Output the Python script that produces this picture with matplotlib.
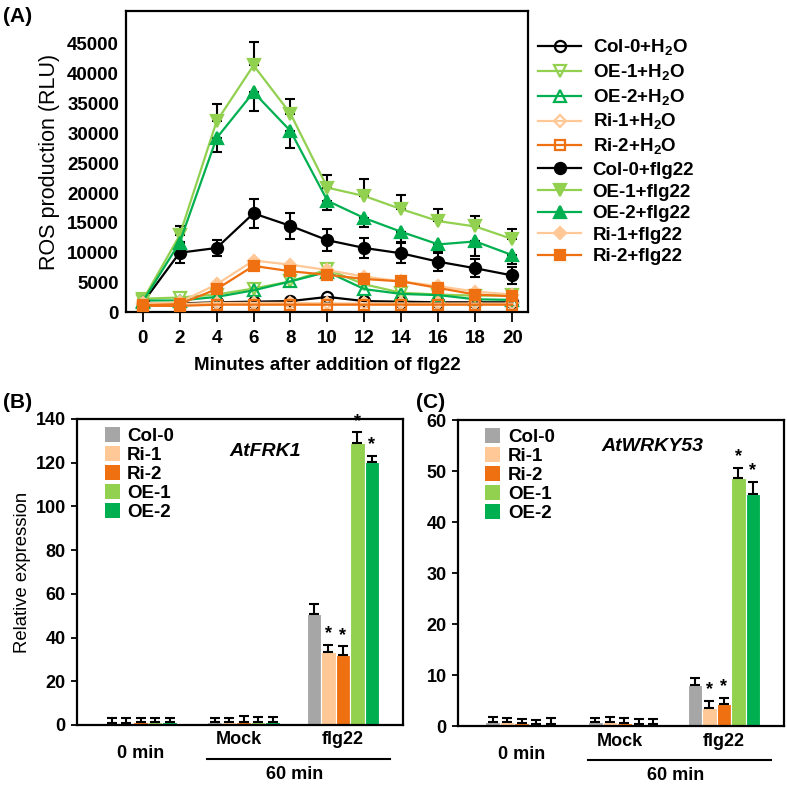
import numpy as np
import matplotlib
matplotlib.use("Agg")
import matplotlib.pyplot as plt
from matplotlib.patches import Patch

plt.rcParams["font.family"] = ["Liberation Sans", "DejaVu Sans"]
plt.rcParams["font.weight"] = "bold"
plt.rcParams["mathtext.fontset"] = "custom"
plt.rcParams["mathtext.rm"] = "Liberation Sans:bold"
plt.rcParams["mathtext.bf"] = "Liberation Sans:bold"

# ---- panel A data (ROS time course) ----
minutes = [0, 2, 4, 6, 8, 10, 12, 14, 16, 18, 20]

col0_h2o = [1500, 1500, 1700, 1800, 1900, 2600, 1900, 1800, 1700, 1700, 1700]
oe1_h2o = [2300, 2500, 3000, 4000, 5200, 7200, 4700, 3300, 3000, 2800, 2900]
oe2_h2o = [2000, 2000, 2600, 3700, 5200, 6800, 3900, 3100, 2900, 2200, 2100]
ri1_h2o = [1400, 1400, 1600, 1600, 1600, 1500, 1500, 1500, 1500, 1500, 1500]
ri2_h2o = [1100, 1100, 1300, 1300, 1300, 1300, 1300, 1300, 1300, 1300, 1300]

col0_flg = [1600, 10000, 10800, 16600, 14500, 12100, 10800, 9900, 8500, 7400, 6200]
oe1_flg = [2000, 12900, 32000, 41400, 33300, 20900, 19500, 17300, 15300, 14400, 12300]
oe2_flg = [1800, 11700, 29200, 36900, 30400, 18700, 15800, 13500, 11400, 11900, 9600]
ri1_flg = [1500, 1700, 4700, 8700, 8000, 7100, 6000, 5200, 4400, 3500, 3000]
ri2_flg = [1200, 1400, 3900, 7800, 6900, 6300, 5600, 5200, 4100, 3000, 2700]

col0_flg_err = [0, 1800, 1400, 2400, 2200, 1800, 1600, 1700, 1500, 1500, 1400]
oe1_flg_err = [0, 1500, 3000, 3900, 2500, 2200, 2800, 2300, 2000, 1700, 1600]
oe2_flg_err = [0, 1500, 2400, 3200, 2800, 1500, 1500, 1700, 1200, 2400, 1500]

# ---- panel B / C data (qRT-PCR) ----
genotypes = ["Col-0", "Ri-1", "Ri-2", "OE-1", "OE-2"]
group_labels = ["0 min", "Mock", "flg22"]

frk1_0min = [1.0, 1.0, 1.2, 1.2, 1.2]
frk1_mock = [1.2, 1.2, 1.5, 1.3, 1.3]
frk1_flg22 = [50.8, 33.2, 32.1, 128.8, 120.1]
frk1_0min_err = [2.2, 2.2, 2.0, 2.0, 2.0]
frk1_mock_err = [2.0, 2.0, 2.4, 2.2, 2.2]
frk1_flg22_err = [4.6, 3.5, 3.9, 5.1, 3.1]

wrky53_0min = [0.7, 0.7, 0.6, 0.4, 0.4]
wrky53_mock = [0.7, 0.7, 0.5, 0.4, 0.4]
wrky53_flg22 = [8.1, 3.6, 4.4, 48.6, 45.5]
wrky53_0min_err = [1.0, 0.9, 0.8, 0.8, 1.1]
wrky53_mock_err = [0.9, 1.0, 1.1, 0.9, 1.0]
wrky53_flg22_err = [1.3, 1.3, 1.1, 2.0, 2.4]

frk1_stars = [False, True, True, True, True]
wrky53_stars = [False, True, True, True, True]

BLACK = "#000000"
LGREEN = "#92D050"
GREEN = "#00B050"
LORANGE = "#FFC896"
ORANGE = "#EE7011"
GRAY = "#A6A6A6"
bar_colors = [GRAY, LORANGE, ORANGE, LGREEN, GREEN]

fig = plt.figure(figsize=(7.87, 7.87), dpi=100)

# ================= panel A =================
axA = fig.add_axes([0.1601, 0.603, 0.5108, 0.383])

series = [
    (col0_h2o, BLACK, "o", "none", "Col-0+H$_2$O", None),
    (oe1_h2o, LGREEN, "v", "none", "OE-1+H$_2$O", None),
    (oe2_h2o, GREEN, "^", "none", "OE-2+H$_2$O", None),
    (ri1_h2o, LORANGE, "D", "none", "Ri-1+H$_2$O", None),
    (ri2_h2o, ORANGE, "s", "none", "Ri-2+H$_2$O", None),
    (col0_flg, BLACK, "o", BLACK, "Col-0+flg22", ("both", col0_flg_err)),
    (oe1_flg, LGREEN, "v", LGREEN, "OE-1+flg22", ("up", oe1_flg_err)),
    (oe2_flg, GREEN, "^", GREEN, "OE-2+flg22", ("down", oe2_flg_err)),
    (ri1_flg, LORANGE, "D", LORANGE, "Ri-1+flg22", None),
    (ri2_flg, ORANGE, "s", ORANGE, "Ri-2+flg22", None),
]

handles = []
for vals, col, mk, fc, lab, err in series:
    ms = 6.5 if mk in ("D", "s") else 8
    if err is not None:
        kind, e = err
        e = np.array(e)
        lo = e if kind in ("both", "down") else np.zeros_like(e)
        up = e if kind in ("both", "up") else np.zeros_like(e)
        axA.errorbar(minutes, vals, yerr=[lo, up], fmt="none", ecolor=BLACK,
                     elinewidth=1.5, capsize=3.5, capthick=1.5, zorder=2)
    ln, = axA.plot(minutes, vals, color=col, marker=mk, markersize=ms,
                   markerfacecolor=fc, markeredgecolor=col, markeredgewidth=1.6,
                   linewidth=1.6, label=lab, zorder=3)
    handles.append(ln)

axA.set_xlim(-0.9, 20.85)
axA.set_ylim(0, 50500)
axA.set_xticks(minutes)
axA.set_yticks(np.arange(0, 45001, 5000))
axA.tick_params(axis="y", length=0, pad=5, labelsize=13.5)
axA.tick_params(axis="x", length=7, width=1.3, labelsize=13.5, pad=6)
for lbl in axA.get_xticklabels() + axA.get_yticklabels():
    lbl.set_fontweight("bold")
for sp in axA.spines.values():
    sp.set_linewidth(1.6)
axA.set_xlabel("Minutes after addition of flg22", fontsize=13.5, fontweight="bold", labelpad=7)
axA.set_ylabel("ROS production (RLU)", fontsize=15.5, fontweight="normal", labelpad=5)

fig.legend(handles=handles, loc="upper left", bbox_to_anchor=(0.684, 0.952),
           frameon=False, fontsize=13.5, handlelength=2.3, handletextpad=0.6,
           labelspacing=0.24, borderpad=0, borderaxespad=0)

fig.text(0.004, 0.979, "(A)", fontsize=15, fontweight="bold", va="center")

# ================= panels B and C =================
group_pos = [4.4, 11.5, 18.35]
step = 1.0


def bar_panel(ax, groups, errs, stars, ymax, yticks, gene, gene_xy):
    for gi, (vals, e) in enumerate(zip(groups, errs)):
        xs = group_pos[gi] + (np.arange(5) - 2) * step
        ax.bar(xs, vals, width=step, color=bar_colors, edgecolor="white",
               linewidth=0.8, zorder=2)
        ax.errorbar(xs, vals, yerr=[np.zeros(5), e], fmt="none", ecolor=BLACK,
                    elinewidth=1.5, capsize=3.5, capthick=1.5, zorder=3)
        if gi == 2:
            for x, v, ee, s in zip(xs, vals, e, stars):
                if s:
                    ax.text(x, v + ee + ymax * 0.008, "*", ha="center", va="bottom",
                            fontsize=13, fontweight="bold")
    ax.set_xlim(0, 22.5)
    ax.set_ylim(0, ymax)
    ax.set_yticks(yticks)
    ax.set_xticks([])
    ax.tick_params(axis="y", length=4, width=1.3, labelsize=13, pad=4)
    for lbl in ax.get_yticklabels():
        lbl.set_fontweight("bold")
    for sp in ax.spines.values():
        sp.set_linewidth(1.6)
    trans = ax.get_xaxis_transform()
    ax.text(group_pos[0], -0.092, group_labels[0], transform=trans, ha="center",
            va="center", fontsize=13, fontweight="bold")
    ax.text(group_pos[1] - 0.3, -0.049, group_labels[1], transform=trans, ha="center",
            va="center", fontsize=13, fontweight="bold")
    ax.text(group_pos[2], -0.049, group_labels[2], transform=trans, ha="center",
            va="center", fontsize=13, fontweight="bold")
    ax.plot([8.95, 21.6], [-0.111, -0.111], transform=trans, color=BLACK,
            linewidth=1.5, clip_on=False)
    ax.text(15.0, -0.163, "60 min", transform=trans, ha="center", va="center",
            fontsize=13, fontweight="bold")
    ax.text(gene_xy[0], gene_xy[1], gene, transform=ax.transAxes, ha="center",
            va="center", fontsize=14, fontweight="bold", style="italic")
    hs = [Patch(facecolor=c, edgecolor="none") for c in bar_colors]
    ax.legend(hs, genotypes, loc="upper left", bbox_to_anchor=(0.085, 0.975),
              frameon=False, fontsize=13.5, handlelength=0.8, handleheight=0.9,
              handletextpad=0.4, labelspacing=0.04, borderpad=0, borderaxespad=0)


axB = fig.add_axes([0.0978, 0.0788, 0.4142, 0.3888])
bar_panel(axB, [frk1_0min, frk1_mock, frk1_flg22],
          [frk1_0min_err, frk1_mock_err, frk1_flg22_err],
          frk1_stars, 140, np.arange(0, 141, 20), "AtFRK1", (0.577, 0.895))
axB.set_ylabel("Relative expression", fontsize=13.3, fontweight="normal", labelpad=3)

axC = fig.add_axes([0.5816, 0.0775, 0.4146, 0.3888])
bar_panel(axC, [wrky53_0min, wrky53_mock, wrky53_flg22],
          [wrky53_0min_err, wrky53_mock_err, wrky53_flg22_err],
          wrky53_stars, 60, np.arange(0, 61, 10), "AtWRKY53", (0.597, 0.912))

fig.text(0.004, 0.489, "(B)", fontsize=15, fontweight="bold", va="center")
fig.text(0.528, 0.489, "(C)", fontsize=15, fontweight="bold", va="center")

fig.savefig("out.png", dpi=100)
